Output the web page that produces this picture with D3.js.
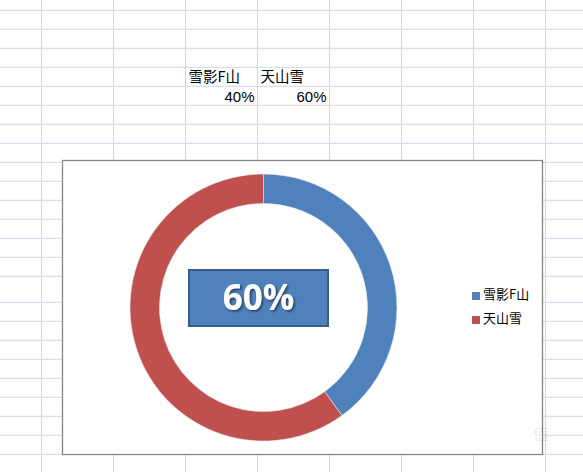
<!DOCTYPE html>
<html>
<head>
<meta charset="utf-8">
<script src="https://cdn.jsdelivr.net/npm/d3@7/dist/d3.min.js"></script>
<style>
  html, body { margin: 0; padding: 0; background: #fff; overflow: hidden; }
  svg { display: block; }
</style>
</head>
<body>
<svg id="chart" width="583" height="472"></svg>
<script>
// ---- data ----
const categories = ["雪影F山", "天山雪"];
const values = [40, 60];          // percent
const seriesColors = ["#4F81BD", "#C0504D"];
const centerLabelIndex = 1;       // big label shows 天山雪's value

// ---- layout ----
const W = 583, H = 472;
const colStart = 41.5, colWidth = 72;
const rowHeights = [19,19,19,19,19,19,19,19,19,19,19,19,19,19,26,19,19,19,19,19,19,19,19,19];
const rowStart = 10.3;
const chartBox = {x: 62.5, y: 160.5, w: 480, h: 294};
const cx = 263.5, cy = 307.5, rOuter = 133.5, rInner = 104;

const svg = d3.select("#chart");
const fmt = d3.format(".0%");

// ---- spreadsheet grid ----
const grid = svg.append("g").attr("stroke", "#D0D7E5").attr("stroke-width", 1);
for (let x = colStart; x < W; x += colWidth) {
  grid.append("line").attr("x1", x).attr("x2", x).attr("y1", 0).attr("y2", H);
}
let yy = rowStart;
const rowLines = [yy];
rowHeights.forEach(h => { yy += h; rowLines.push(yy); });
rowLines.filter(y => y < H).forEach(y => {
  grid.append("line").attr("x1", 0).attr("x2", W).attr("y1", y).attr("y2", y);
});

// ---- cell contents ----
const cellFont = "'Noto Sans CJK SC', 'Liberation Sans', sans-serif";
const headerRowY = rowLines[3], valueRowY = rowLines[4];
const colX = i => colStart + colWidth * i;
categories.forEach((c, i) => {
  svg.append("text")
    .attr("x", colX(2 + i) + 3).attr("y", headerRowY + 15)
    .attr("font-family", cellFont).attr("font-size", 14.5).attr("fill", "#000")
    .text(c);
  svg.append("text")
    .attr("x", colX(3 + i) - 3).attr("y", valueRowY + 15.5)
    .attr("text-anchor", "end")
    .attr("font-family", "'Liberation Sans', Arial, sans-serif").attr("font-size", 15).attr("fill", "#000")
    .text(fmt(values[i] / 100));
});

// ---- chart area ----
svg.append("rect")
  .attr("x", chartBox.x).attr("y", chartBox.y).attr("width", chartBox.w).attr("height", chartBox.h)
  .attr("fill", "#fff").attr("stroke", "#868686").attr("stroke-width", 1.3);

const pie = d3.pie().sort(null).value(d => d.v);
const arcs = pie(categories.map((c, i) => ({c, v: values[i], color: seriesColors[i]})));
const arc = d3.arc().innerRadius(rInner).outerRadius(rOuter);

svg.append("g").attr("transform", `translate(${cx},${cy})`)
  .selectAll("path").data(arcs).join("path")
  .attr("d", arc)
  .attr("fill", d => d.data.color)
  .attr("stroke", "#e8e8e8").attr("stroke-width", 0.6);

// ---- center label ----
const defs = svg.append("defs");
const f = defs.append("filter").attr("id", "shadow").attr("x", "-20%").attr("y", "-20%").attr("width", "140%").attr("height", "140%");
f.append("feDropShadow").attr("dx", 1.5).attr("dy", 1.5).attr("stdDeviation", 1.2)
  .attr("flood-color", "#000").attr("flood-opacity", 0.55);

const box = {x: 189, y: 270, w: 139, h: 56};
svg.append("rect")
  .attr("x", box.x).attr("y", box.y).attr("width", box.w).attr("height", box.h)
  .attr("fill", "#4F81BD").attr("stroke", "#385D8A").attr("stroke-width", 2);
svg.append("text")
  .attr("x", box.x + box.w / 2).attr("y", box.y + 40)
  .attr("text-anchor", "middle")
  .attr("font-family", "'Open Sans', 'Liberation Sans', sans-serif")
  .attr("font-weight", "bold").attr("font-size", 35)
  .attr("fill", "#fff").attr("filter", "url(#shadow)")
  .text(fmt(values[centerLabelIndex] / 100));

// ---- legend ----
const legend = svg.append("g");
categories.forEach((c, i) => {
  const ly = 292 + i * 24;
  legend.append("rect").attr("x", 472).attr("y", ly).attr("width", 8).attr("height", 8)
    .attr("fill", seriesColors[i]);
  legend.append("text").attr("x", 483).attr("y", ly + 7)
    .attr("font-family", cellFont).attr("font-size", 13).attr("fill", "#000")
    .text(c);
});

// ---- faint watermark ----
svg.append("text").attr("x", 533).attr("y", 440)
  .attr("font-family", cellFont).attr("font-size", 16).attr("fill", "#000").attr("opacity", 0.08)
  .text("值");
</script>
</body>
</html>
